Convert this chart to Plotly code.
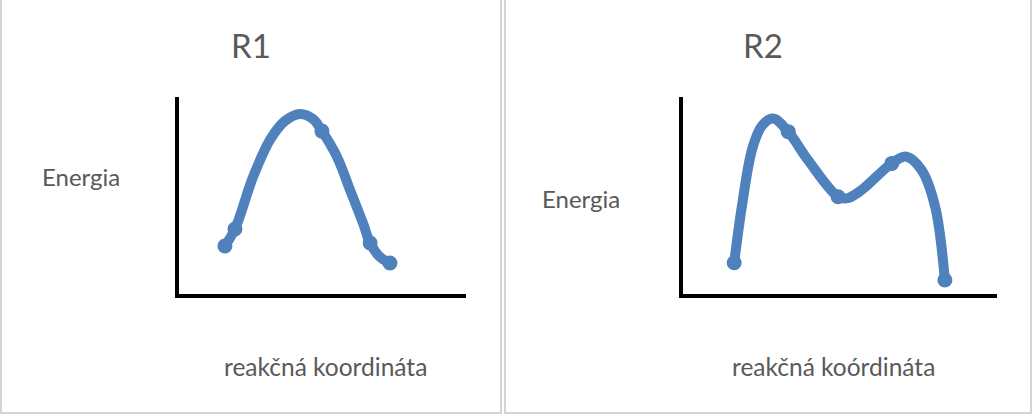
import plotly.graph_objects as go

W, H = 1033, 416

# ---- data (arbitrary energy units along a reaction coordinate) ----
r1_x = [1.60, 1.95, 2.58, 3.17, 3.69, 4.22, 4.67, 4.98, 5.51, 5.96, 6.41, 6.66, 7.00, 7.35]
r1_y = [2.44, 3.30, 5.94, 7.82, 8.78, 9.14, 8.88, 8.27, 6.95, 5.28, 3.60, 2.59, 1.88, 1.57]
r1_marker = [1, 1, 0, 0, 0, 0, 0, 1, 0, 0, 0, 1, 0, 1]

r2_x = [1.63, 1.88, 2.21, 2.52, 2.87, 3.35, 3.98, 4.94, 5.25, 5.69, 6.65, 7.12, 7.60, 8.03, 8.34]
r2_y = [1.59, 4.50, 7.40, 8.55, 8.91, 8.24, 6.80, 4.94, 4.87, 5.28, 6.63, 6.97, 6.29, 4.43, 0.71]
r2_marker = [1, 0, 0, 0, 0, 1, 0, 1, 0, 0, 1, 0, 0, 0, 1]

titles = ["R1", "R2"]
y_labels = ["Energia", "Energia"]
x_labels = ["reakčná koordináta", "reakčná koórdináta"]

BLUE = "#4F81BD"
TXT = "#595959"
FONT = "Lato"


def px(x):
    return x / W


def py(y):
    return 1 - y / H


fig = go.Figure()

for i, (xs, ys, mk) in enumerate([(r1_x, r1_y, r1_marker), (r2_x, r2_y, r2_marker)]):
    xa = "x" if i == 0 else "x2"
    ya = "y" if i == 0 else "y2"
    fig.add_trace(go.Scatter(
        x=xs, y=ys, mode="lines", xaxis=xa, yaxis=ya,
        line=dict(color=BLUE, width=10, shape="spline", smoothing=1.0),
        hoverinfo="skip", showlegend=False, cliponaxis=False))
    fig.add_trace(go.Scatter(
        x=[x for x, m in zip(xs, mk) if m], y=[y for y, m in zip(ys, mk) if m],
        mode="markers", xaxis=xa, yaxis=ya,
        marker=dict(color=BLUE, size=15),
        hoverinfo="skip", showlegend=False, cliponaxis=False))

axis_common = dict(showline=True, linewidth=4, linecolor="black", mirror=False,
                   showgrid=False, zeroline=False, showticklabels=False, ticks="",
                   range=[0, 10], fixedrange=True)

fig.update_layout(
    width=W, height=H,
    margin=dict(l=0, r=0, t=0, b=0),
    paper_bgcolor="white", plot_bgcolor="white",
    xaxis=dict(domain=[px(179), px(466)], anchor="y", **axis_common),
    yaxis=dict(domain=[py(294), py(97)], anchor="x", **axis_common),
    xaxis2=dict(domain=[px(683), px(997)], anchor="y2", **axis_common),
    yaxis2=dict(domain=[py(294), py(97)], anchor="x2", **axis_common),
)

# panel borders (table cells)
border = dict(color="#D4D4D4", width=2)
fig.add_shape(type="rect", xref="paper", yref="paper",
              x0=px(1), x1=px(501), y0=py(413), y1=py(-10), line=border)
fig.add_shape(type="rect", xref="paper", yref="paper",
              x0=px(505), x1=px(1031), y0=py(413), y1=py(-10), line=border)

# texts
ann = []
ann.append(dict(text=titles[0], x=px(251), y=py(45), font=dict(size=33)))
ann.append(dict(text=titles[1], x=px(763), y=py(45), font=dict(size=33)))
ann.append(dict(text=y_labels[0], x=px(81), y=py(177), font=dict(size=24)))
ann.append(dict(text=y_labels[1], x=px(581), y=py(198), font=dict(size=24)))
ann.append(dict(text=x_labels[0], x=px(325), y=py(366), font=dict(size=24.5)))
ann.append(dict(text=x_labels[1], x=px(833), y=py(366), font=dict(size=24.5)))
for a in ann:
    a.update(xref="paper", yref="paper", showarrow=False,
             xanchor="center", yanchor="middle")
    a["font"].update(family=FONT, color=TXT)
    fig.add_annotation(**a)

fig.write_html("out.html", config={"displayModeBar": False},
               post_script="document.body.style.margin='0';document.body.style.overflow='hidden';")
